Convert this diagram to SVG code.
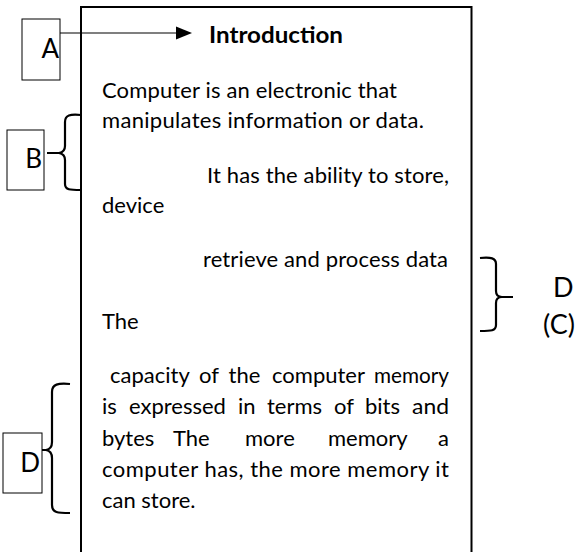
<svg xmlns="http://www.w3.org/2000/svg" width="587" height="552" viewBox="0 0 587 552">
<style>
.t{font-family:Lato,"Open Sans",sans-serif;font-size:22px;fill:#000}
.b{font-weight:bold;font-size:23px}
.lbl{font-family:Lato,"Open Sans",sans-serif;font-size:26px;fill:#000}
.big{font-family:Lato,"Open Sans",sans-serif;font-size:27px;fill:#000}
.box{fill:#fff;stroke:#000;stroke-width:1}
.brace{fill:none;stroke:#000;stroke-width:2.2;stroke-linecap:butt}
</style>
<rect width="587" height="552" fill="#fff"/>
<g id="main">
<path d="M81,560 V7 H471.5 V560" fill="none" stroke="#000" stroke-width="2"/>
<text class="t b" x="209" y="43" textLength="134" lengthAdjust="spacingAndGlyphs">Introduction</text>
<text class="t" x="102" y="98" textLength="295" lengthAdjust="spacing">Computer is an electronic that</text>
<text class="t" x="102" y="128" textLength="322" lengthAdjust="spacing">manipulates information or data.</text>
<text class="t" x="207" y="183" textLength="242" lengthAdjust="spacing">It has the ability to store,</text>
<text class="t" x="102" y="213">device</text>
<text class="t" x="203" y="267" textLength="245" lengthAdjust="spacing">retrieve and process data</text>
<text class="t" x="102" y="329">The</text>
<text class="t" y="383"><tspan x="110">capacity</tspan><tspan x="199">of</tspan><tspan x="228.5">the</tspan><tspan x="272">computer</tspan><tspan x="374" textLength="75" lengthAdjust="spacingAndGlyphs">memory</tspan></text>
<text class="t" y="414"><tspan x="102">is</tspan><tspan x="129">expressed</tspan><tspan x="238">in</tspan><tspan x="267">terms</tspan><tspan x="334">of</tspan><tspan x="365">bits</tspan><tspan x="412" textLength="37" lengthAdjust="spacingAndGlyphs">and</tspan></text>
<text class="t" y="446"><tspan x="102">bytes</tspan><tspan x="173">The</tspan><tspan x="245">more</tspan><tspan x="328">memory</tspan><tspan x="438">a</tspan></text>
<text class="t" x="102" y="477" textLength="347" lengthAdjust="spacing">computer has, the more memory it</text>
<text class="t" x="102" y="508">can store.</text>
</g>
<g id="nodeA">
<rect class="box" x="22" y="19" width="38" height="61"/>
<text class="lbl" x="59" y="58" text-anchor="end">A</text>
</g>
<g id="nodeB">
<rect class="box" x="7" y="130" width="37" height="60"/>
<text class="lbl" x="42" y="168" text-anchor="end">B</text>
</g>
<g id="nodeD">
<rect class="box" x="3" y="433" width="39" height="60"/>
<text class="lbl" x="40" y="472" text-anchor="end">D</text>
</g>
<g id="nodeDC">
<text class="big" x="553" y="297">D</text>
<text class="big" x="543" y="334">(C)</text>
</g>
<g id="connectors">
<line x1="60" y1="33" x2="178" y2="33" stroke="#000" stroke-width="1.2"/>
<polygon points="176,26.5 192,33 176,39.5" fill="#000"/>
<path class="brace" d="M81,115 C70,114 65,115 65,122 V146 Q65,152 59,153 L47,153 M59,153 Q65,154 65,160 V184 C65,190 70,190 81,190"/>
<path class="brace" d="M70,384 C58,383 52,384 52,392 V442 Q52,449 46,450 L42,450 M46,450 Q52,451 52,458 V505 C52,513 58,513 70,513"/>
<path class="brace" d="M480,258 C491,257 496,258 496,264 V291 Q496,297 502,297 L513,297 M502,297 Q496,297 496,303 V325 C496,331 491,331 480,331"/>
</g>
</svg>
